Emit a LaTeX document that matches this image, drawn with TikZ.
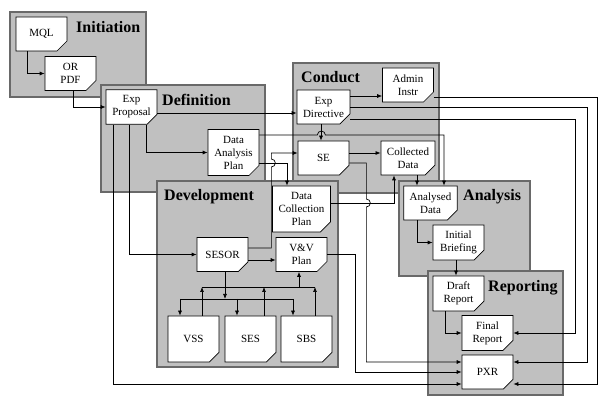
\documentclass[tikz,border=0pt]{standalone}
\usepackage{fontspec}
\setmainfont{Liberation Serif}
\usetikzlibrary{arrows.meta,shapes.misc}
\definecolor{panelgrey}{RGB}{192, 192, 192}
\definecolor{paneledge}{RGB}{105, 105, 105}
\tikzset{
    panel/.style={fill=panelgrey, draw=paneledge, line width=1.2pt},
    doc/.style={chamfered rectangle, chamfered rectangle corners=south east,
                chamfered rectangle xsep=5pt, chamfered rectangle ysep=5pt,
                draw, fill=white, line width=0.7pt, inner sep=1pt,
                minimum width=51pt, minimum height=34pt, align=center,
                font=\fontsize{11}{13}\selectfont,
                path picture={\draw[line width=0.5pt]
                    ([xshift=-5pt]path picture bounding box.south east) -- ++(1pt,4pt) -- ++(4pt,1pt);}},
    tall/.style={minimum height=46pt},
    phase/.style={font=\fontsize{16}{18}\selectfont\bfseries, anchor=base west, inner sep=0pt},
    flow/.style={-{Latex[length=5pt,width=4pt]}, line width=0.7pt},
}
\begin{document}
\begin{tikzpicture}[x=1pt,y=1pt]
            \useasboundingbox                  (  0.0,   0.0) rectangle (610.0, 407.0);
            \filldraw[panel]                   ( 10.0, 395.0) rectangle (146.0, 310.0);
            \filldraw[panel]                   (101.0, 322.0) rectangle (265.0, 215.0);
            \filldraw[panel]                   (293.0, 344.0) rectangle (439.0, 214.0);
            \filldraw[panel]                   (157.0, 226.0) rectangle (338.0,  40.0);
            \filldraw[panel]                   (399.0, 226.0) rectangle (530.0, 131.0);
            \filldraw[panel]                   (428.0, 136.0) rectangle (563.0,  12.0);

            \node[phase]    (initiation)  at ( 76.0, 374.5) {Initiation};
            \node[phase]    (definition)  at (162.0, 301.5) {Definition};
            \node[phase]    (conduct)     at (301.0, 324.5) {Conduct};
            \node[phase]    (development) at (164.0, 206.0) {Development};
            \node[phase]    (analysis)    at (463.0, 206.0) {Analysis};
            \node[phase]    (reporting)   at (488.0, 115.5) {Reporting};

            \node[doc]      (mql)      at ( 41.5, 373.0) {MQL};
            \node[doc]      (orpdf)    at ( 70.5, 333.5) {OR\\PDF};
            \node[doc]      (expprop)  at (131.5, 300.0) {Exp\\Proposal};
            \node[doc,tall] (dap)      at (233.5, 254.5) {Data\\Analysis\\Plan};
            \node[doc]      (admin)    at (408.0, 322.0) {Admin\\Instr};
            \node[doc]      (expdir)   at (323.5, 300.0) {Exp\\Directive};
            \node[doc]      (se)       at (323.5, 249.0) {SE};
            \node[doc]      (colldata) at (408.0, 249.0) {Collected\\Data};
            \node[doc,tall] (dcp)      at (301.5, 198.0) {Data\\Collection\\Plan};
            \node[doc]      (sesor)    at (222.5, 152.5) {SESOR};
            \node[doc]      (vvplan)   at (301.5, 152.5) {V\&V\\Plan};
            \node[doc,tall] (vss)      at (193.5,  68.0) {VSS};
            \node[doc,tall] (ses)      at (250.5,  68.0) {SES};
            \node[doc,tall] (sbs)      at (306.5,  68.0) {SBS};
            \node[doc]      (analysed) at (430.5, 204.0) {Analysed\\Data};
            \node[doc]      (briefing) at (458.5, 164.5) {Initial\\Briefing};
            \node[doc]      (draft)    at (458.5, 113.5) {Draft\\Report};
            \node[doc]      (final)    at (487.5,  74.0) {Final\\Report};
            \node[doc]      (pxr)      at (487.5,  35.0) {PXR};

            \coordinate     (fanout)   at (225.0, 108.0);
            \coordinate     (fanin)    at (299.0, 120.0);

            \draw[flow] ([xshift=-14.5pt]mql.south)     |- (orpdf.west);
            \draw[flow] ([xshift=2.5pt]orpdf.south)     |- (expprop.west);
            \draw[flow] ([xshift=14.5pt]expprop.south)  |- (dap.west);
            \draw[flow] ([xshift=-2.5pt]expprop.south)  |- (sesor.west);
            \draw[flow] ([xshift=-18.5pt]expprop.south) |- ([yshift=-12pt]pxr.west);
            \draw[flow] ([yshift=-6pt]expprop.east)     -- ([yshift=-6pt]expdir.west);
            \draw[flow] ([yshift=-10.5pt]dap.east)      -| ([xshift=-14.5pt]dcp.north);
            \draw[flow] ([yshift=17.5pt]dap.east)       -- ++(58,0) arc[start angle=180, end angle=0, radius=4]
                                                        -| ([xshift=13.5pt]analysed.north);
            \draw[flow] ([yshift=11pt]expdir.east)      -- ([yshift=-11pt]admin.west);
            \draw[flow] ([xshift=-2.5pt]expdir.south)   -- ([xshift=-2.5pt]se.north);
            \draw[flow] (expdir.east)                   -- ++(237,0) |- ([yshift=10pt]pxr.east);
            \draw[flow] ([yshift=-12pt]expdir.east)     -- ++(225,0) |- (final.east);
            \draw[flow] ([yshift=-12pt]admin.east)      -- ++(163,0) |- ([yshift=-12pt]pxr.east);
            \draw[flow] ([yshift=5pt]se.east)           -- ([yshift=5pt]colldata.west);
            \draw[flow] ([yshift=-5pt]se.east)          -- ++(17,0) -- ++(0,-36) arc[start angle=90, end angle=-90, radius=4]
                                                        |- ([yshift=10pt]pxr.west);
            \draw[flow] ([xshift=9pt]colldata.south)    -- ([xshift=-13.5pt]analysed.north);
            \draw[flow] ([yshift=6pt]dcp.east)          -| ([xshift=-14pt]colldata.south);
            \draw[flow] ([yshift=6.5pt]sesor.east)      -- ++(23,0) -- ++(0,81) arc[start angle=-90, end angle=90, radius=4]
                                                        |- ([yshift=5pt]se.west);
            \draw[flow] ([yshift=-5.5pt]sesor.east)     -- ([yshift=-5.5pt]vvplan.west);
            \draw[flow] (vvplan.east)                   -- ++(28,0) |- (pxr.west);

            \draw[flow] ([xshift=2.5pt]sesor.south)     -- (fanout);
            \draw       ([xshift=-13.5pt]vss.north |- fanout) -- ([xshift=-13.5pt]sbs.north |- fanout);
            \draw[flow] ([xshift=-13.5pt]vss.north |- fanout) -- ([xshift=-13.5pt]vss.north);
            \draw[flow] ([xshift=-13.5pt]ses.north |- fanout) -- ([xshift=-13.5pt]ses.north);
            \draw[flow] ([xshift=-13.5pt]sbs.north |- fanout) -- ([xshift=-13.5pt]sbs.north);
            \draw       ([xshift=8.5pt]vss.north |- fanin)    -- ([xshift=8.5pt]sbs.north |- fanin);
            \draw[flow] ([xshift=8.5pt]vss.north)       -- ([xshift=8.5pt]vss.north |- fanin);
            \draw[flow] ([xshift=13.5pt]ses.north)      -- ([xshift=13.5pt]ses.north |- fanin);
            \draw[flow] ([xshift=8.5pt]sbs.north)       -- ([xshift=8.5pt]sbs.north |- fanin);
            \draw[flow] (fanin)                         -- ([xshift=-2.5pt]vvplan.south);

            \draw[flow] ([xshift=-13.5pt]analysed.south) |- (briefing.west);
            \draw[flow] ([xshift=-2.5pt]briefing.south)  -- ([xshift=-2.5pt]draft.north);
            \draw[flow] ([xshift=-13.5pt]draft.south)    |- (final.west);
        \end{tikzpicture}
\end{document}
